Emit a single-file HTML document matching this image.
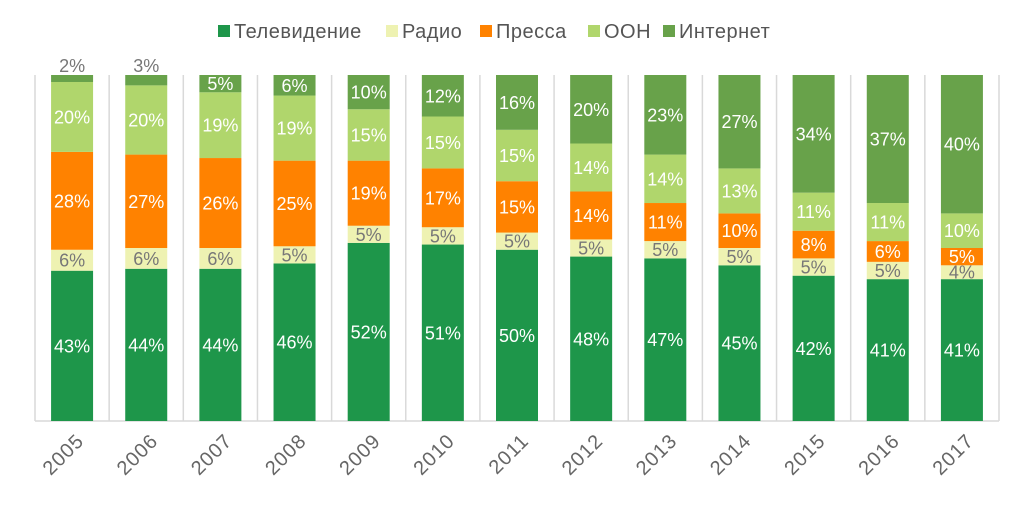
<!DOCTYPE html>
<html><head><meta charset="utf-8"><style>
body{margin:0;background:#fff;}
svg{display:block;font-family:"Liberation Sans","DejaVu Sans",sans-serif;}
</style></head><body>
<svg id="c" width="1033" height="510"></svg>
<script>
const years=["2005","2006","2007","2008","2009","2010","2011","2012","2013","2014","2015","2016","2017"];
const seriesNames=["Телевидение","Радио","Пресса","ООН","Интернет"];
const tv=[43,44,44,46,52,51,50,48,47,45,42,41,41];
const radio=[6,6,6,5,5,5,5,5,5,5,5,5,4];
const press=[28,27,26,25,19,17,15,14,11,10,8,6,5];
const oon=[20,20,19,19,15,15,15,14,14,13,11,11,10];
const inet=[2,3,5,6,10,12,16,20,23,27,34,37,40];
const colors=["#1e964a","#eef2b2","#ff8200","#b0d66c","#68a24a"];
const labelColors=["#fff","#777","#fff","#fff","#fff"];
const series=[tv,radio,press,oon,inet];
const NS="http://www.w3.org/2000/svg";
const svg=document.getElementById('c');
const L=35,R=999,T=75,B=421,bw=42;
const cw=(R-L)/years.length;
const xc=i=>L+cw*(i+0.5);
function mk(t,a,p){const e=document.createElementNS(NS,t);for(const k in a)e.setAttribute(k,a[k]);(p||svg).appendChild(e);return e;}
for(let i=0;i<=years.length;i++){
  const g=mk('line',{x1:L+cw*i,x2:L+cw*i,y1:T,y2:B,stroke:'#d9d9d9','stroke-width':1.5});
  
  
}
const ax=mk('line',{x1:L,x2:R,y1:B,y2:B,stroke:'#d9d9d9','stroke-width':1.5});


years.forEach((y,i)=>{
  const tot=series.reduce((s,a)=>s+a[i],0);
  const sc=(B-T)/tot;
  let base=B;
  series.forEach((arr,k)=>{
    const h=arr[i]*sc;
    const r=mk('rect',{x:xc(i)-bw/2,y:base-h,width:bw,height:h,fill:colors[k]});
    
    
    let ty=base-h/2+6.5,col=labelColors[k];
    if(k===4&&arr[i]<4){ty=base-h-3;col='#777';}
    const t=mk('text',{x:xc(i),y:ty,'text-anchor':'middle','font-size':18,fill:col});
    t.textContent=arr[i]+'%';
    
    
    base-=h;
  });
  const ex=xc(i)+13, ey=442;
  const yl=mk('text',{x:ex,y:ey,'text-anchor':'end','font-size':20,'letter-spacing':1,fill:'#666',transform:`rotate(-45 ${ex} ${ey})`});
  yl.textContent=y;
  
  
});
const lx=[218,386,480,588,663];
seriesNames.forEach((n,k)=>{
  const g=mk('g',{});
  
  
  mk('rect',{x:lx[k],y:25,width:12,height:12,fill:colors[k]},g);
  const t=mk('text',{x:lx[k]+16,y:38,'font-size':20,'letter-spacing':0.5,fill:'#555'},g);
  t.textContent=n;
});
</script>
</body></html>
